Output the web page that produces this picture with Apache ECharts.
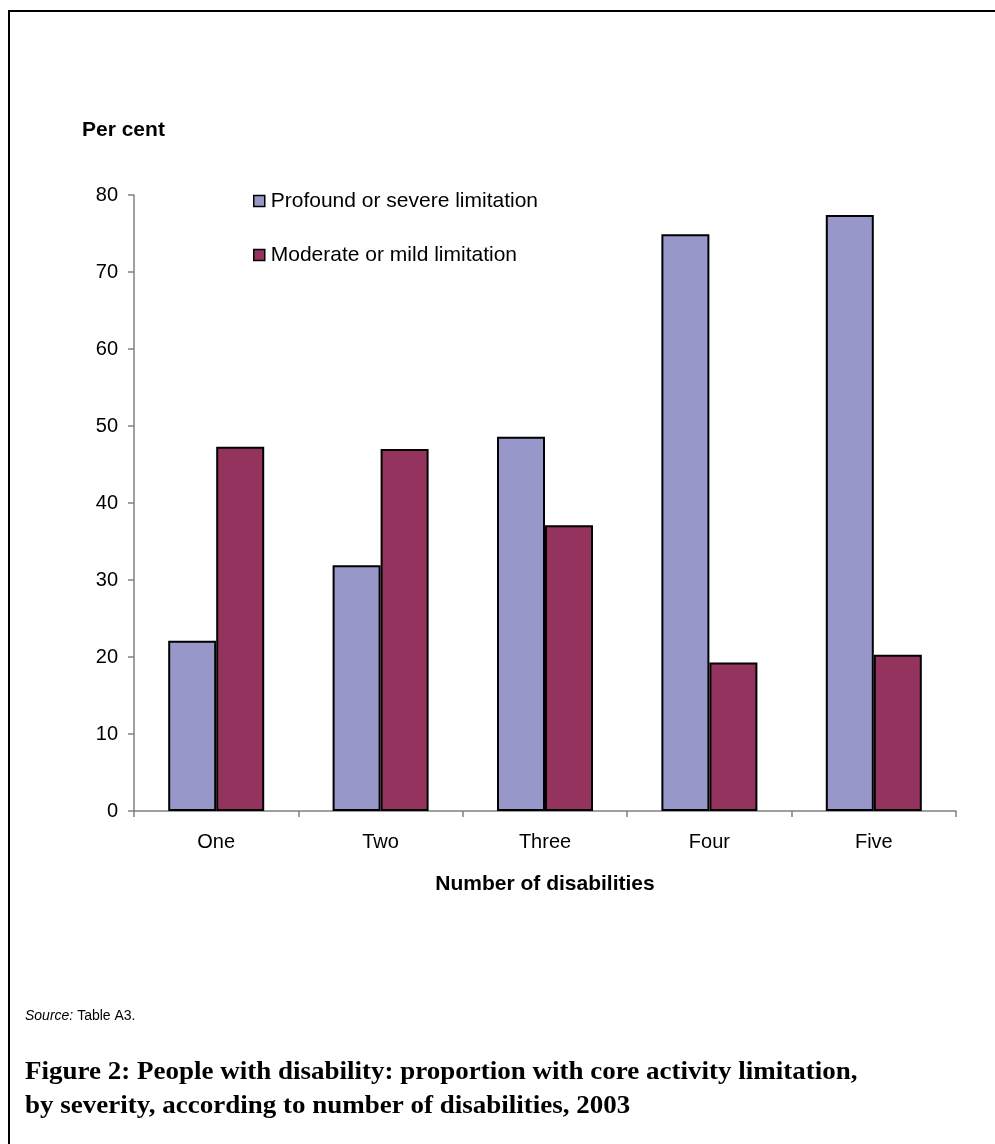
<!DOCTYPE html>
<html>
<head>
<meta charset="utf-8">
<script src="https://cdn.jsdelivr.net/npm/echarts@6/dist/echarts.min.js"></script>
<style>
  html, body { margin: 0; padding: 0; background: #fff; }
  #chart { width: 995px; height: 1144px; }
</style>
</head>
<body>
<div id="chart"></div>
<script>
// Number of disabilities (categories)
const categories = ['One', 'Two', 'Three', 'Four', 'Five'];
// Per cent with profound or severe core activity limitation
const profoundSevere = [22.1, 31.9, 48.6, 74.9, 77.4];
// Per cent with moderate or mild core activity limitation
const moderateMild = [47.3, 47.0, 37.1, 19.3, 20.3];
// Value axis range and step
const yMin = 0, yMax = 80, yStep = 10;

const sans = 'Liberation Sans, Arial, sans-serif';
const serif = '"Liberation Serif", "Times New Roman", serif';

const chart = echarts.init(document.getElementById('chart'), null, { renderer: 'canvas' });

chart.setOption({
  backgroundColor: '#ffffff',
  animation: false,
  grid: { left: 134, right: 39, top: 195, bottom: 333 },
  legend: {
    orient: 'vertical',
    left: 253,
    top: 190,
    padding: 0,
    itemWidth: 11,
    itemHeight: 11,
    itemGap: 32,
    icon: 'rect',
    itemStyle: { borderColor: '#000', borderWidth: 1.5 },
    textStyle: { fontFamily: sans, fontSize: 21, color: '#000', lineHeight: 22, padding: [0, 0, 0, 1] },
    data: ['Profound or severe limitation', 'Moderate or mild limitation']
  },
  xAxis: {
    type: 'category',
    data: categories,
    name: 'Number of disabilities',
    nameLocation: 'middle',
    nameGap: 63,
    nameTextStyle: { fontFamily: sans, fontSize: 21, fontWeight: 'bold', color: '#000' },
    axisLine: { lineStyle: { color: '#808080', width: 1.5 } },
    axisTick: { show: true, length: 6, lineStyle: { color: '#808080', width: 1.5 } },
    axisLabel: { fontFamily: sans, fontSize: 20, color: '#000', margin: 21 },
    splitLine: { show: false }
  },
  yAxis: {
    type: 'value',
    min: yMin,
    max: yMax,
    interval: yStep,
    axisLine: { show: true, lineStyle: { color: '#808080', width: 1.5 } },
    axisTick: { show: true, length: 6, lineStyle: { color: '#808080', width: 1.5 } },
    axisLabel: { fontFamily: sans, fontSize: 20, color: '#000', margin: 16 },
    splitLine: { show: false }
  },
  series: [
    {
      name: 'Profound or severe limitation',
      type: 'bar',
      data: profoundSevere,
      barGap: '0%',
      barCategoryGap: '41.6%',
      itemStyle: { color: '#9797ca', borderColor: '#000', borderWidth: 2 }
    },
    {
      name: 'Moderate or mild limitation',
      type: 'bar',
      data: moderateMild,
      barGap: '0%',
      barCategoryGap: '41.6%',
      itemStyle: { color: '#95335f', borderColor: '#000', borderWidth: 2 }
    }
  ],
  graphic: [
    // frame round the figure (open on the right and bottom)
    {
      type: 'polyline',
      shape: { points: [[9, 1144], [9, 11], [995, 11]] },
      style: { stroke: '#000', lineWidth: 2, fill: null }
    },
    // value axis title
    {
      type: 'text',
      left: 82,
      top: 120,
      style: { text: 'Per cent', font: 'bold 21px ' + sans, fill: '#000' }
    },
    // source note
    {
      type: 'text',
      left: 25,
      top: 1009,
      style: {
        text: '{i|Source:} Table A3.',
        font: '14px ' + sans,
        fill: '#000',
        rich: { i: { fontStyle: 'italic', fontFamily: sans, fontSize: 14 } }
      }
    },
    // figure caption
    {
      type: 'text',
      left: 25,
      top: 1056,
      scaleX: 1.08,
      style: {
        text: 'Figure 2: People with disability: proportion with core activity limitation,\nby severity, according to number of disabilities, 2003',
        font: 'bold 25px ' + serif,
        lineHeight: 34,
        fill: '#000'
      }
    }
  ]
});
</script>
</body>
</html>
